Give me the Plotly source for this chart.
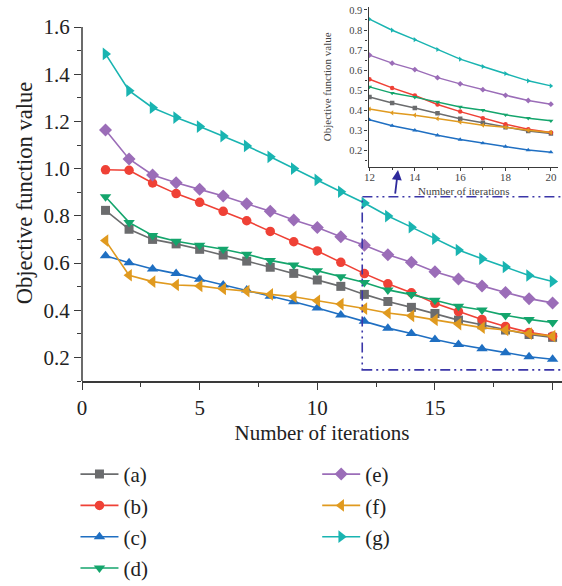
import plotly.graph_objects as go

iterations = list(range(1, 21))
series_names = ["(a)", "(b)", "(c)", "(d)", "(e)", "(f)", "(g)"]
a_vals = [0.823, 0.743, 0.700, 0.681, 0.658, 0.634, 0.608, 0.582, 0.556, 0.528,
          0.501, 0.467, 0.437, 0.412, 0.386, 0.358, 0.338, 0.316, 0.297, 0.285]
b_vals = [0.995, 0.993, 0.939, 0.894, 0.857, 0.819, 0.779, 0.734, 0.690, 0.651,
          0.603, 0.555, 0.512, 0.474, 0.429, 0.394, 0.361, 0.331, 0.306, 0.290]
c_vals = [0.631, 0.601, 0.575, 0.555, 0.531, 0.507, 0.486, 0.459, 0.436, 0.409,
          0.380, 0.353, 0.324, 0.301, 0.276, 0.255, 0.237, 0.220, 0.203, 0.192]
d_vals = [0.881, 0.772, 0.717, 0.692, 0.675, 0.658, 0.637, 0.611, 0.592, 0.567,
          0.542, 0.517, 0.486, 0.466, 0.442, 0.417, 0.401, 0.378, 0.361, 0.348]
e_vals = [1.164, 1.041, 0.973, 0.940, 0.912, 0.884, 0.851, 0.819, 0.782, 0.750,
          0.711, 0.675, 0.635, 0.603, 0.563, 0.532, 0.503, 0.475, 0.449, 0.431]
f_vals = [0.695, 0.548, 0.521, 0.507, 0.503, 0.490, 0.481, 0.467, 0.457, 0.440,
          0.426, 0.407, 0.388, 0.376, 0.359, 0.341, 0.326, 0.316, 0.301, 0.290]
g_vals = [1.486, 1.330, 1.258, 1.216, 1.178, 1.138, 1.096, 1.050, 1.000, 0.952,
          0.902, 0.854, 0.799, 0.752, 0.703, 0.655, 0.618, 0.583, 0.547, 0.522]
inset_start = 12

all_vals = [a_vals, b_vals, c_vals, d_vals, e_vals, f_vals, g_vals]
colors = ["#6b6c6e", "#ef4136", "#1f6fc2", "#14a56c", "#9b6db8", "#e09a1f", "#19b4b1"]
symbols = ["square", "circle", "triangle-up", "triangle-down", "diamond",
           "triangle-left", "triangle-right"]
msizes = [9, 9.5, 10, 10, 10, 11, 11]

FONT = "Liberation Serif"
fig = go.Figure()

for i, (name, vals) in enumerate(zip(series_names, all_vals)):
    fig.add_trace(go.Scatter(
        x=iterations, y=vals, name=name, mode="lines+markers",
        line=dict(color=colors[i], width=1.6),
        marker=dict(symbol=symbols[i], size=msizes[i], color=colors[i]),
        legend="legend" if i < 4 else "legend2",
        legendgroup=name, xaxis="x", yaxis="y",
    ))

for i, (name, vals) in enumerate(zip(series_names, all_vals)):
    xs = [x for x in iterations if x >= inset_start]
    ys = [v for x, v in zip(iterations, vals) if x >= inset_start]
    fig.add_trace(go.Scatter(
        x=xs, y=ys, name=name, mode="lines+markers", showlegend=False,
        line=dict(color=colors[i], width=1.5),
        marker=dict(symbol=symbols[i], size=4.5, color=colors[i]),
        legendgroup=name, xaxis="x2", yaxis="y2",
    ))

axis_col = "#3a3a3a"
fig.update_layout(
    width=562, height=586,
    margin=dict(l=81.5, r=0, t=5, b=205, autoexpand=False),
    paper_bgcolor="white", plot_bgcolor="white",
    font=dict(family=FONT, size=21, color="#222"),
    xaxis=dict(
        domain=[0, 1], range=[0, 20.4], tickvals=[0, 5, 10, 15, 20],
        showgrid=False, zeroline=False, showline=True, linecolor=axis_col, linewidth=1.5,
        ticks="outside", ticklen=7, tickwidth=1.3, tickcolor=axis_col,
        minor=dict(tickvals=[2.5, 7.5, 12.5, 17.5], ticks="outside", ticklen=4,
                   tickwidth=1.2, tickcolor=axis_col),
        tickfont=dict(size=21),
        title=dict(text="Number of iterations", font=dict(size=21), standoff=6),
        automargin=True,
    ),
    yaxis=dict(
        domain=[0, 1], range=[0.1, 1.6 + 22 / 236],
        tickvals=[0.2, 0.4, 0.6, 0.8, 1.0, 1.2, 1.4, 1.6],
        ticktext=["0.2", "0.4", "0.6", "0.8", "1.0", "1.2", "1.4", "1.6"],
        showgrid=False, zeroline=False, showline=False,
        ticks="outside", ticklen=7, tickwidth=1.3, tickcolor=axis_col,
        minor=dict(tickvals=[0.1, 0.3, 0.5, 0.7, 0.9, 1.1, 1.3, 1.5], ticks="outside",
                   ticklen=4, tickwidth=1.2, tickcolor=axis_col),
        tickfont=dict(size=21),
        title=dict(text="Objective function value", font=dict(size=22.5), standoff=4),
        automargin=True,
    ),
    xaxis2=dict(
        domain=[0.597, 0.992], anchor="y2", range=[11.96, 20.32],
        tickvals=[12, 14, 16, 18, 20],
        showgrid=False, zeroline=False, showline=True, linecolor=axis_col, linewidth=1.3,
        ticks="outside", ticklen=3, tickwidth=1, tickcolor=axis_col,
        minor=dict(tickvals=[13, 15, 17, 19], ticks="outside", ticklen=2, tickcolor=axis_col),
        tickfont=dict(size=11, color="#444"), ticklabelstandoff=-3,
    ),
    yaxis2=dict(
        domain=[0.570, 0.995], anchor="x2", range=[0.12, 0.915],
        tickvals=[0.2, 0.3, 0.4, 0.5, 0.6, 0.7, 0.8, 0.9],
        showgrid=False, zeroline=False, showline=True, linecolor=axis_col, linewidth=1.3,
        ticks="outside", ticklen=3, tickwidth=1, tickcolor=axis_col,
        minor=dict(tickvals=[0.15, 0.25, 0.35, 0.45, 0.55, 0.65, 0.75, 0.85],
                   ticks="outside", ticklen=2, tickcolor=axis_col),
        tickfont=dict(size=10.5, color="#444"),
        title=dict(text="Objective function value", font=dict(size=11, color="#444")),
    ),
    legend=dict(x=-0.0136, y=-0.194, xanchor="left", yanchor="top",
                orientation="v", tracegroupgap=1, itemwidth=38, font=dict(size=21),
                bgcolor="rgba(0,0,0,0)"),
    legend2=dict(x=0.49, y=-0.194, xanchor="left", yanchor="top",
                 orientation="v", tracegroupgap=1, itemwidth=38, font=dict(size=21),
                 bgcolor="rgba(0,0,0,0)"),
    showlegend=True,
)

# inset x-axis title placed close under its tick labels
fig.add_annotation(text="Number of iterations", xref="paper", yref="paper",
                   x=0.796, y=0.5053, showarrow=False, xanchor="center", yanchor="middle",
                   font=dict(size=11, color="#444"))

# main y axis line ending at 1.6
fig.add_shape(type="line", xref="paper", yref="y", x0=0, x1=0, y0=0.1, y1=1.6,
              line=dict(color=axis_col, width=1.5))

# zoom rectangle (dash-dot-dot)
box_x0, box_x1, box_y0, box_y1 = 11.91, 20.6, 0.147, 0.881
fig.add_shape(type="rect", xref="x", yref="y", x0=box_x0, x1=box_x1, y0=box_y0, y1=box_y1,
              line=dict(color="#3b36a8", width=1.6, dash="10px,4px,2px,4px,2px,4px"))

fig.add_annotation(x=13.43, y=0.994, xref="x", yref="y", ax=-3, ay=25,
                   showarrow=True, arrowhead=2, arrowsize=1.1, arrowwidth=1.8,
                   arrowcolor="#2e2a9c", text="")

fig.write_html("out.html")
